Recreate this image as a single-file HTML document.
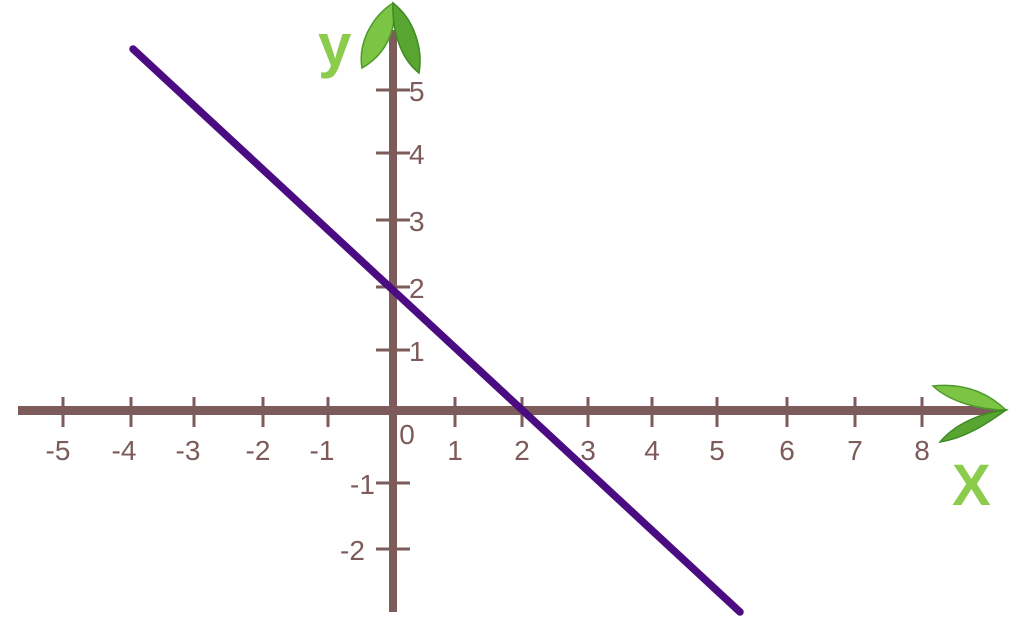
<!DOCTYPE html>
<html><head><meta charset="utf-8"><style>
html,body{margin:0;padding:0;background:#fff;}
svg{display:block}
text{font-family:"Liberation Sans",sans-serif;fill:#7d5b5b;font-size:28px;}
</style></head><body>
<svg width="1012" height="635" viewBox="0 0 1012 635" xmlns="http://www.w3.org/2000/svg">
<g stroke="#7d5b5b" stroke-linecap="butt">
<line x1="18" y1="410.5" x2="1000" y2="410.5" stroke-width="9"/>
<line x1="393" y1="30" x2="393" y2="612" stroke-width="8"/>
<g stroke-width="3">
<line x1="63" y1="397" x2="63" y2="427"/><line x1="131" y1="397" x2="131" y2="427"/>
<line x1="194" y1="397" x2="194" y2="427"/><line x1="263" y1="397" x2="263" y2="427"/>
<line x1="328" y1="397" x2="328" y2="427"/><line x1="455" y1="397" x2="455" y2="427"/>
<line x1="522" y1="397" x2="522" y2="427"/><line x1="588" y1="397" x2="588" y2="427"/>
<line x1="652" y1="397" x2="652" y2="427"/><line x1="717" y1="397" x2="717" y2="427"/>
<line x1="787" y1="397" x2="787" y2="427"/><line x1="855" y1="397" x2="855" y2="427"/>
<line x1="922" y1="397" x2="922" y2="427"/>
<line x1="376" y1="90" x2="410" y2="90"/><line x1="376" y1="153" x2="410" y2="153"/>
<line x1="376" y1="220" x2="410" y2="220"/><line x1="376" y1="287" x2="410" y2="287"/>
<line x1="376" y1="350" x2="410" y2="350"/><line x1="376" y1="483" x2="410" y2="483"/>
<line x1="376" y1="549" x2="410" y2="549"/>
</g></g>
<g text-anchor="middle">
<text x="58" y="460">-5</text><text x="124" y="460">-4</text><text x="188" y="460">-3</text>
<text x="258" y="460">-2</text><text x="322" y="460">-1</text><text x="407" y="444">0</text>
<text x="455" y="460">1</text><text x="522" y="460">2</text><text x="588" y="460">3</text>
<text x="652" y="460">4</text><text x="717" y="460">5</text><text x="787" y="460">6</text>
<text x="855" y="460">7</text><text x="922" y="460">8</text>
</g>
<g>
<text x="409" y="101">5</text><text x="409" y="164">4</text><text x="409" y="231">3</text>
<text x="409" y="298">2</text><text x="409" y="361">1</text>
<text x="350" y="494">-1</text><text x="340" y="560">-2</text>
</g>
<line x1="133" y1="49" x2="740" y2="612" stroke="#4b0c82" stroke-width="7.5" stroke-linecap="round"/>
<!-- y leaves -->
<path d="M393 3 C370 18 358 45 362 68 C385 55 398 30 393 3Z" fill="#7cc444" stroke="#4d9a2a" stroke-width="1.5"/>
<path d="M393 3 C415 20 423 50 419 73 C400 58 392 30 393 3Z" fill="#58a532" stroke="#3f8a22" stroke-width="1.5"/>
<!-- x leaves -->
<path d="M1006 410 C985 390 960 383 933 386 C950 402 980 410 1006 410Z" fill="#7cc444" stroke="#4d9a2a" stroke-width="1.5"/>
<path d="M1006 410 C985 425 965 438 940 442 C955 424 980 413 1006 410Z" fill="#58a532" stroke="#3f8a22" stroke-width="1.5"/>
<text x="318" y="66" style="fill:#8ccc4c;font-size:60px;font-weight:bold">y</text>
<text x="952" y="505" style="fill:#8ccc4c;font-size:58px;font-weight:bold">X</text>
</svg>
</body></html>
